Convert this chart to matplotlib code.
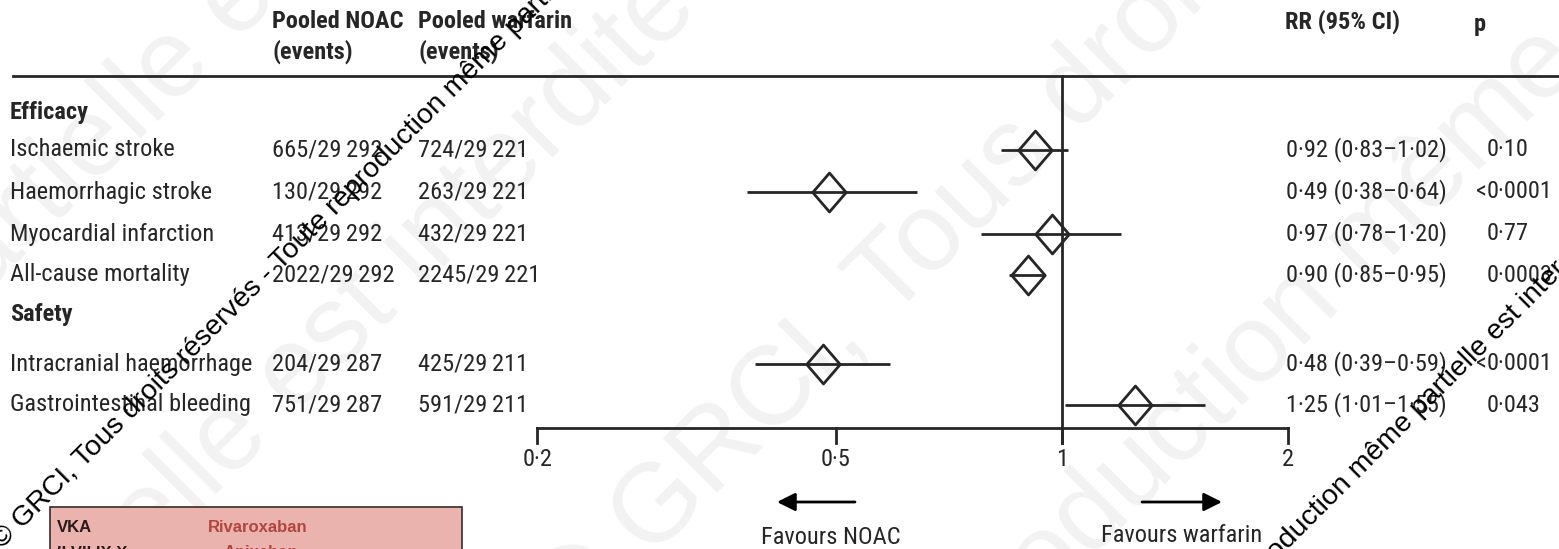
import numpy as np
import matplotlib
matplotlib.use("Agg")
import matplotlib.pyplot as plt
from matplotlib import font_manager
from matplotlib.transforms import blended_transform_factory
from matplotlib.patches import Rectangle

# ---------------------------------------------------------
# Data
# ---------------------------------------------------------
outcomes = ["Ischaemic stroke", "Haemorrhagic stroke", "Myocardial infarction",
            "All-cause mortality", "Intracranial haemorrhage", "Gastrointestinal bleeding"]
noac_events = ["665/29\u2009292", "130/29\u2009292", "413/29\u2009292", "2022/29\u2009292",
               "204/29\u2009287", "751/29\u2009287"]
warf_events = ["724/29\u2009221", "263/29\u2009221", "432/29\u2009221", "2245/29\u2009221",
               "425/29\u2009211", "591/29\u2009211"]
rr = [0.92, 0.49, 0.97, 0.90, 0.48, 1.25]
ci_low = [0.83, 0.38, 0.78, 0.85, 0.39, 1.01]
ci_high = [1.02, 0.64, 1.20, 0.95, 0.59, 1.55]
rr_text = ["0·92 (0·83–1·02)", "0·49 (0·38–0·64)", "0·97 (0·78–1·20)", "0·90 (0·85–0·95)",
           "0·48 (0·39–0·59)", "1·25 (1·01–1·55)"]
p_text = ["0·10", "<0·0001", "0·77", "0·0003", "<0·0001", "0·043"]
tick_vals = [0.2, 0.5, 1, 2]
tick_labels = ["0·2", "0·5", "1", "2"]

# layout (pixel rows from top)
row_y = [150, 192, 234, 275, 364, 405]
W, H = 1559, 549

# narrow font if there is one, otherwise Lato
def first_font(names):
    for n in names:
        try:
            font_manager.findfont(n, fallback_to_default=False)
            return n
        except Exception:
            pass
    return "Lato"

main_font = first_font(["Liberation Sans Narrow", "DejaVu Sans Condensed", "Roboto Condensed",
                        "Open Sans Condensed", "Noto Sans Condensed", "Lato"])
plt.rcParams["font.family"] = [main_font, "DejaVu Sans"]
TXT = "#262626"
small = ["Liberation Sans", "DejaVu Sans"]

fig = plt.figure(figsize=(W / 100, H / 100), dpi=100)
renderer = fig.canvas.get_renderer()

# fit font size to the reference width of the longest label, capped
probe = fig.text(0, 0, "Gastrointestinal bleeding", fontsize=20)
FS = min(20 * 240 / probe.get_window_extent(renderer).width, 18)
probe.remove()

# ---------------------------------------------------------
# Watermarks (rotated 45 deg, anchored on a chosen word)
# ---------------------------------------------------------
wm = "© GRCI, Tous droits réservés - Toute reproduction même partielle est interdite"

def place(sub, x, y, fs, color, z):
    pre = fig.text(0, 0, wm[:wm.index(sub)], fontsize=fs, family=small)
    d = pre.get_window_extent(renderer).width / np.sqrt(2) if wm.index(sub) else 0
    pre.remove()
    fig.text((x - d) / W, 1 - (y + d) / H, wm, fontsize=fs, rotation=45,
             rotation_mode="anchor", ha="left", va="baseline", color=color,
             family=small, zorder=z)

# big faint one, behind everything
for sub, x, y in [("partielle", -60, 340), ("elle est", 150, 560),
                  ("GRCI", 650, 560), ("duction", 1090, 560)]:
    place(sub, x, y, 80, "#f2f2f2", -5)

ax = fig.add_axes([0, 0, 1, 1])
ax.set_zorder(1)
ax.patch.set_alpha(0)
ax.set_xscale("log")
# 1 -> x=1062 px, 326 px per ln unit
ax.set_xlim(np.exp(-1062 / 326), np.exp((W - 1062) / 326))
ax.set_ylim(H, 0)
ax.axis("off")

fx = blended_transform_factory(ax.transAxes, ax.transData)

def px(x):
    return x / W

def label(x, y, s, bold=False, **kw):
    ax.text(px(x), y, s, transform=fx, fontsize=kw.pop("fontsize", FS), color=TXT, va="center",
            fontweight="bold" if bold else "normal", **kw)

# headers
label(272, 22, "Pooled NOAC", bold=True)
label(272, 52, "(events)", bold=True)
label(418, 22, "Pooled warfarin", bold=True)
label(418, 52, "(events)", bold=True)
label(1285, 22, "RR (95% CI)", bold=True)
label(1474, 24, "p", bold=True)

ax.plot([px(13), 1], [76, 76], transform=fx, color=TXT, lw=2, clip_on=False)

label(10, 113, "Efficacy", bold=True)
label(10, 314, "Safety", bold=True)

for i in range(len(outcomes)):
    y = row_y[i]
    label(10, y, outcomes[i])
    label(272, y, noac_events[i])
    label(418, y, warf_events[i])
    label(1286, y, rr_text[i])
    if p_text[i].startswith("<"):
        label(1487, y, "<", ha="right")
        label(1487, y, p_text[i][1:])
    else:
        label(1487, y, p_text[i])

# forest marks
diamond = [(-0.86, 0), (0, 1), (0.86, 0), (0, -1), (-0.86, 0)]
for i in range(len(rr)):
    y = row_y[i]
    ax.plot([ci_low[i], ci_high[i]], [y, y], color=TXT, lw=2, solid_capstyle="butt")
    ax.plot(rr[i], y, marker=diamond, markersize=28, markerfacecolor="none",
            markeredgecolor=TXT, markeredgewidth=2)

# axis
ax.plot([tick_vals[0], tick_vals[-1]], [428, 428], color=TXT, lw=2)
for v, lab in zip(tick_vals, tick_labels):
    ax.plot([v, v], [428, 443], color=TXT, lw=2)
    ax.text(v, 459, lab, fontsize=FS, color=TXT, ha="center", va="center")
ax.plot([1, 1], [76, 443], color=TXT, lw=2)

# favours arrows
arrow = dict(arrowstyle="-|>,head_length=1.1,head_width=0.55", color="black", lw=2,
             shrinkA=0, shrinkB=0)
ax.annotate("", xy=(777, H - 502), xytext=(855, H - 502), xycoords="figure pixels",
            textcoords="figure pixels", arrowprops=arrow)
ax.annotate("", xy=(1222, H - 502), xytext=(1142, H - 502), xycoords="figure pixels",
            textcoords="figure pixels", arrowprops=arrow)
label(831, 537, "Favours NOAC", ha="center")
label(1182, 535, "Favours warfarin", ha="center")

# piece of the next figure (pink box)
ax.add_patch(Rectangle((50 / W, -0.01), 412 / W, (H - 507) / H + 0.01,
                       transform=fig.transFigure, facecolor="#eab3ae",
                       edgecolor="#3a2a2a", lw=1.2, clip_on=False))
ax.text(57 / W, 1 - 527 / H, "VKA", transform=fig.transFigure, fontsize=12,
        fontweight="bold", color="#2a1a1a", va="center", family=small)
ax.text(208 / W, 1 - 527 / H, "Rivaroxaban", transform=fig.transFigure, fontsize=12,
        fontweight="bold", color="#b2453c", va="center", family=small)
ax.text(57 / W, 1 - 553 / H, "II VII IX X", transform=fig.transFigure, fontsize=12,
        fontweight="bold", color="#2a1a1a", va="center", family=small)
ax.text(224 / W, 1 - 553 / H, "Apixaban", transform=fig.transFigure, fontsize=12,
        fontweight="bold", color="#b2453c", va="center", family=small)

# black stamp on top
for sub, x, y in [("©", 2, 550), ("partielle", 1420, 418)]:
    place(sub, x, y, 20.5, "black", 5)

fig.savefig("out.png", dpi=100, facecolor="white")
